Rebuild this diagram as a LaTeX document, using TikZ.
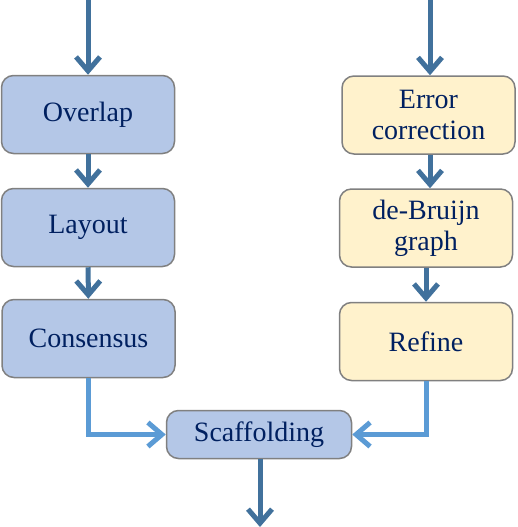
\documentclass[tikz,border=0pt]{standalone}
\usepackage{fontspec}
\setmainfont{Liberation Serif}
\usetikzlibrary{arrows.meta}

\definecolor{boxblue}{RGB}{180,199,231}
\definecolor{boxyellow}{RGB}{255,242,204}
\definecolor{boxedge}{RGB}{128,128,128}
\definecolor{darkarrow}{RGB}{65,113,156}
\definecolor{lightarrow}{RGB}{91,155,213}
\definecolor{textnavy}{RGB}{0,32,96}

\tikzset{
  stage/.style={draw=boxedge, line width=1.5pt, rounded corners=12pt,
    minimum width=173pt, minimum height=78pt, inner sep=0pt, align=center,
    text=textnavy, font=\fontsize{28}{31}\selectfont},
  olc/.style={stage, fill=boxblue},
  dbg/.style={stage, fill=boxyellow},
  flow/.style={line width=5pt, darkarrow, -{Straight Barb[length=14pt,width=24pt]}},
  merge/.style={flow, lightarrow}
}

\begin{document}
\begin{tikzpicture}[x=1pt,y=-1pt]
\useasboundingbox (0,0) rectangle (517,527);

\begin{scope}
% overlap-layout-consensus
\node[olc] (overlap) at (88,114.5) {Overlap};
\node[olc] (layout) at (88,227.5) {Layout};
\node[olc] (consensus) at (88.5,338.5) {Consensus};

% de Bruijn branch
\node[dbg] (errcorr) at (428.5,115) {Error\\correction};
\node[dbg] (debruijn) at (426,228) {de-Bruijn\\graph};
\node[dbg] (refine) at (426,341.5) {Refine};

\node[olc, minimum width=185pt, minimum height=48pt] (scaffold) at (259,434.5) {Scaffolding};

\coordinate (inleft) at (88,0);
\coordinate (inright) at (430,0);
\coordinate (out) at (260,527);

\draw[flow] (inleft) -- (overlap.north);
\draw[flow] (overlap) -- (layout);
\draw[flow] (layout) -- (consensus);
\draw[flow] (inright) -- (inright |- errcorr.north);
\draw[flow] (errcorr.south -| inright) -- (debruijn.north -| inright);
\draw[flow] (debruijn) -- (refine);
\draw[merge] (consensus.south) |- (scaffold.west);
\draw[merge] (refine.south) |- (scaffold.east);
\draw[flow] (scaffold.south -| out) -- (out);
\end{scope}

\end{tikzpicture}
\end{document}
